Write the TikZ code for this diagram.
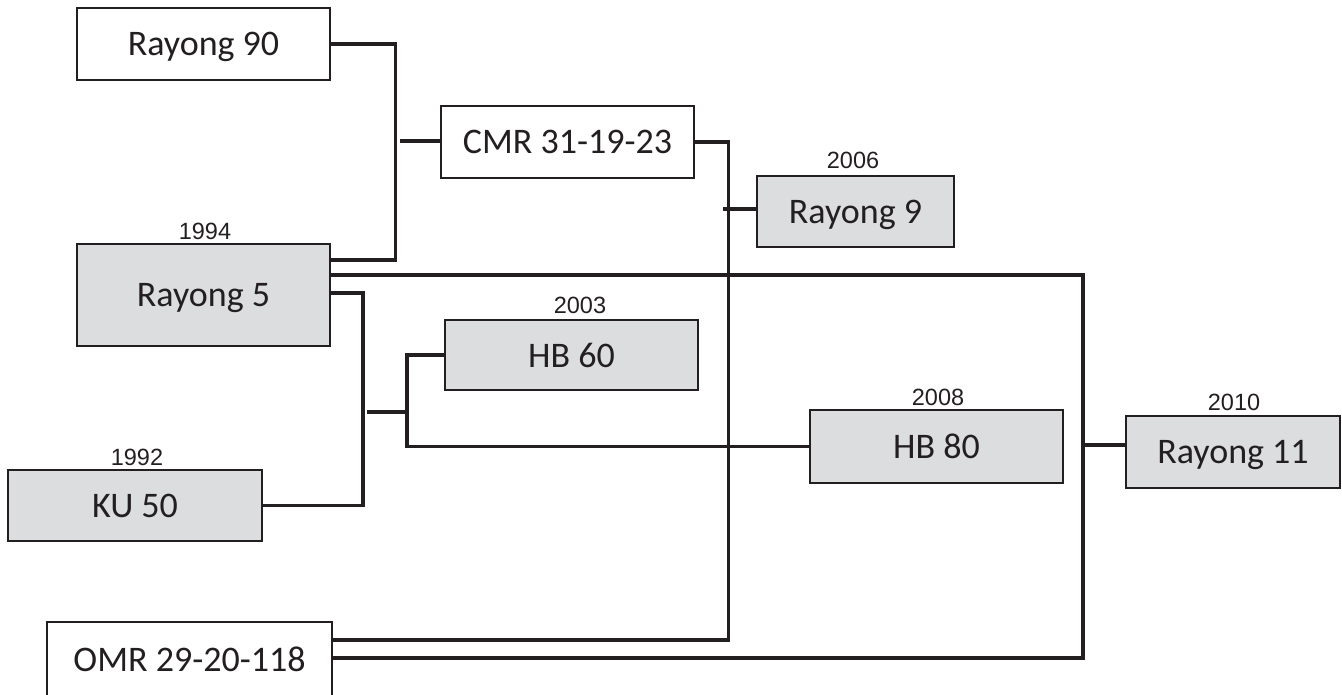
\documentclass[tikz,border=0pt]{standalone}
\usepackage{fontspec}
\setmainfont{Carlito}
\newfontfamily\yearfont{Liberation Sans}
\usetikzlibrary{calc}
\definecolor{boxfill}{HTML}{DCDDDF}
\definecolor{ink}{HTML}{231F20}
\begin{document}
\begin{tikzpicture}[x=1pt,y=-1pt,
  cbox/.style={draw=ink,line width=1.6pt,inner sep=0pt,text depth=0pt,
    font=\fontsize{36}{40}\selectfont,text=ink},
  wbox/.style={cbox,fill=white},
  gbox/.style={cbox,fill=boxfill},
  yr/.style={font=\yearfont\fontsize{23.5}{26}\selectfont,inner sep=0pt,text depth=0pt,text=ink},
  conn/.style={draw=ink,line width=3.2pt}]
\useasboundingbox (0,0) rectangle (1342,694);
% boxes
\node[wbox,minimum width=253pt,minimum height=72pt] (R90) at (203.5,44) {Rayong 90};
\node[wbox,minimum width=253pt,minimum height=72pt] (CMR) at (567.5,142) {CMR 31-19-23};
\node[gbox,minimum width=197pt,minimum height=71pt] (R9) at (855.5,211.5) {Rayong 9};
\node[gbox,minimum width=253pt,minimum height=102pt] (R5) at (203.5,295) {Rayong 5};
\node[gbox,minimum width=253pt,minimum height=70pt] (HB60) at (571.5,355) {HB 60};
\node[gbox,minimum width=253pt,minimum height=73pt] (HB80) at (936.5,446.5) {HB 80};
\node[gbox,minimum width=214pt,minimum height=72pt] (R11) at (1233,452) {Rayong 11};
\node[gbox,minimum width=254pt,minimum height=71pt] (KU50) at (135,505.5) {KU 50};
\node[wbox,minimum width=285pt,minimum height=74pt] (OMR) at (189.5,659) {OMR 29-20-118};
% years
\node[yr] (y1994) at (205,231) {1994};
\node[yr] (y2006) at (853,160) {2006};
\node[yr] (y2003) at (580,305) {2003};
\node[yr] (y2008) at (938,397) {2008};
\node[yr] (y2010) at (1234,402) {2010};
\node[yr] (y1992) at (137,457) {1992};
% junction points
\coordinate (j1) at (400,141);
\coordinate (j2) at (723,209);
\coordinate (j3) at (1083,445);
\coordinate (j4) at (407,412);
\coordinate (j5) at (367,412);
% connectors
\draw[conn] (R90.east) -- ++(65,0) |- ([yshift=35pt]R5.east);
\draw[conn] (j1) -- (CMR.west |- j1);
\draw[conn] (CMR.east) -- ++(34,0) |- ([yshift=19pt]OMR.east);
\draw[conn] (j2) -- (R9.west |- j2);
\draw[conn] ([yshift=20pt]R5.east) -- (1083,275) |- ([yshift=1pt]OMR.east);
\draw[conn] (j3) -- (R11.west |- j3);
\draw[conn] ([yshift=2pt]R5.east) -- (363,293) |- (KU50.east);
\draw[conn] (j5) -- (j4);
\draw[conn] (HB60.west) -| (j4) |- (HB80.west);
\end{tikzpicture}
\end{document}
